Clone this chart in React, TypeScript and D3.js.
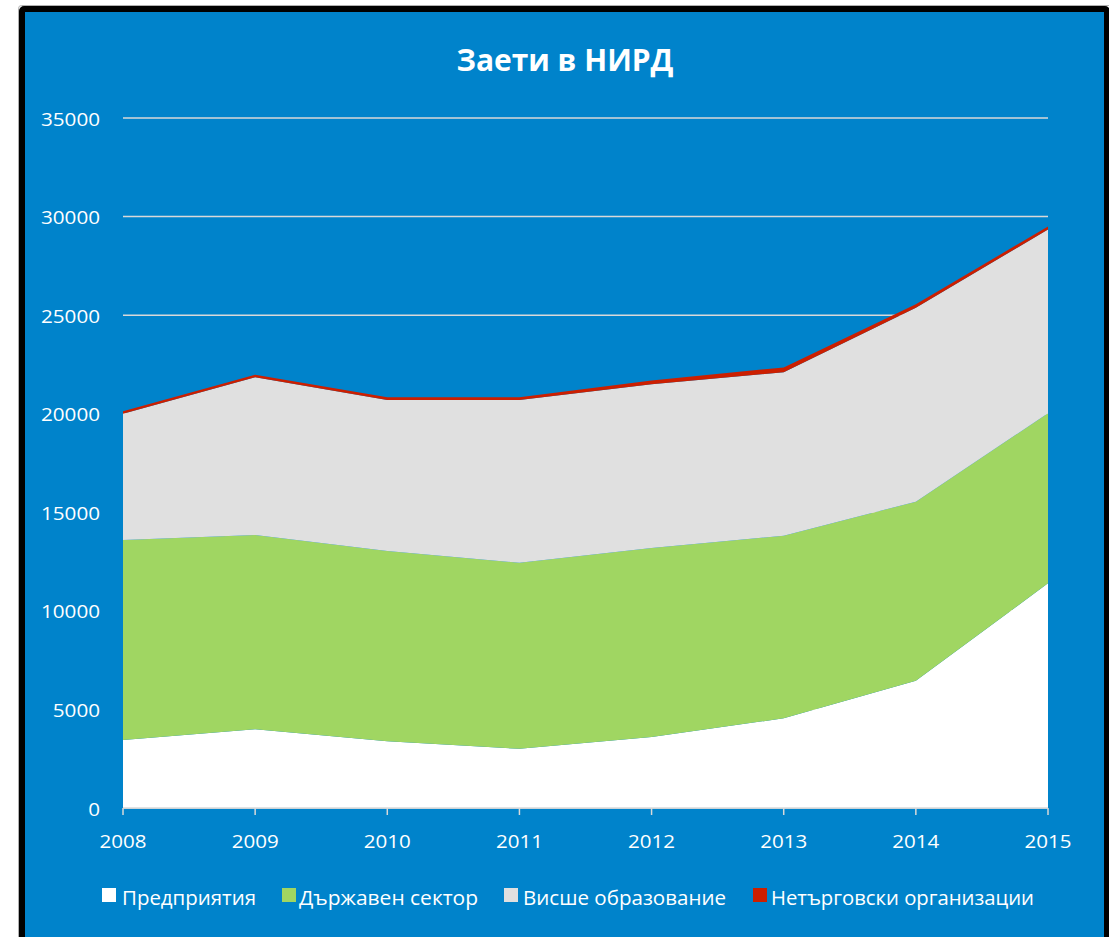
import React from "react";
import * as d3 from "d3";

const years = [2008, 2009, 2010, 2011, 2012, 2013, 2014, 2015];
const enterprises = [3450, 4000, 3380, 3000, 3600, 4550, 6450, 11400];
const government = [10150, 9850, 9650, 9440, 9590, 9260, 9090, 8620];
const higherEd = [6400, 8000, 7670, 8260, 8310, 8290, 9830, 9330];
const nonProfit = [130, 130, 140, 140, 180, 250, 180, 150];
const seriesNames = ["Предприятия", "Държавен сектор", "Висше образование", "Нетърговски организации"];
const yTicks = [0, 5000, 10000, 15000, 20000, 25000, 30000, 35000];
const title = "Заети в НИРД";

const colors = ["#FFFFFF", "#A0D662", "#E0E0E0", "#CC1F00"];
const keys = ["ent", "gov", "he", "np"];

const W = 1109;
const H = 937;
const FONT = "'Open Sans', 'Noto Sans', sans-serif";

export default function App() {
  const table = years.map((y, i) => ({
    year: y,
    ent: enterprises[i],
    gov: government[i],
    he: higherEd[i],
    np: nonProfit[i],
  }));
  const stacked = d3.stack<any>().keys(keys)(table);

  const x = d3.scaleLinear().domain([2008, 2015]).range([123, 1048]);
  const y = d3.scaleLinear().domain([0, 35000]).range([808, 118]);

  const area = d3
    .area<any>()
    .x((d) => x(d.data.year))
    .y0((d) => y(d[0]))
    .y1((d) => y(d[1]));

  const legendSquares = [102, 282, 504, 753];
  const legendText = [122, 299, 523, 771];
  const legendWidths = [134, 179, 203, 263];

  return (
    <svg width={W} height={H} style={{ position: "absolute", left: 0, top: 0 }}>
      <rect x={0} y={0} width={W} height={H} fill="#FFFFFF" />
      <rect x={18.5} y={5.5} width={1100} height={950} fill="none" stroke="#B0B0B0" strokeWidth={1} rx={3} />
      <rect x={22} y={9} width={1085} height={950} fill="#0083CB" stroke="#000000" strokeWidth={6} rx={2} />

      <text
        x={565}
        y={71}
        textAnchor="middle"
        fill="#FFFFFF"
        fontFamily={FONT}
        fontWeight="bold"
        fontSize={31}
        textLength={217}
        lengthAdjust="spacingAndGlyphs"
      >
        {title}
      </text>

      {yTicks.map((t) => (
        <line key={"g" + t} x1={123} x2={1048} y1={y(t)} y2={y(t)} stroke="#D9D9D9" strokeWidth={1.5} />
      ))}

      {stacked.map((s, i) => (
        <path key={keys[i]} d={area(s as any) || ""} fill={colors[i]} />
      ))}

      <line x1={123} x2={1048} y1={808} y2={808} stroke="#D9D9D9" strokeWidth={1.5} />
      {years.map((yr) => (
        <line key={"t" + yr} x1={x(yr)} x2={x(yr)} y1={808} y2={815} stroke="#D9D9D9" strokeWidth={1.5} />
      ))}

      {yTicks.map((t) => {
        const s = String(t);
        return (
          <text
            key={"yl" + t}
            x={100}
            y={y(t) + 7.5}
            textAnchor="end"
            fill="#FFFFFF"
            fontFamily={FONT}
            fontSize={19}
            textLength={s.length * 11.8}
            lengthAdjust="spacingAndGlyphs"
          >
            {s}
          </text>
        );
      })}

      {years.map((yr) => (
        <text
          key={"xl" + yr}
          x={x(yr)}
          y={848}
          textAnchor="middle"
          fill="#FFFFFF"
          fontFamily={FONT}
          fontSize={19}
          textLength={47}
          lengthAdjust="spacingAndGlyphs"
        >
          {String(yr)}
        </text>
      ))}

      {seriesNames.map((n, i) => (
        <g key={"lg" + i}>
          <rect x={legendSquares[i]} y={888} width={14} height={14} fill={colors[i]} />
          <text
            x={legendText[i]}
            y={905}
            fill="#FFFFFF"
            fontFamily={FONT}
            fontSize={20.5}
            textLength={legendWidths[i]}
            lengthAdjust="spacingAndGlyphs"
          >
            {n}
          </text>
        </g>
      ))}
    </svg>
  );
}
